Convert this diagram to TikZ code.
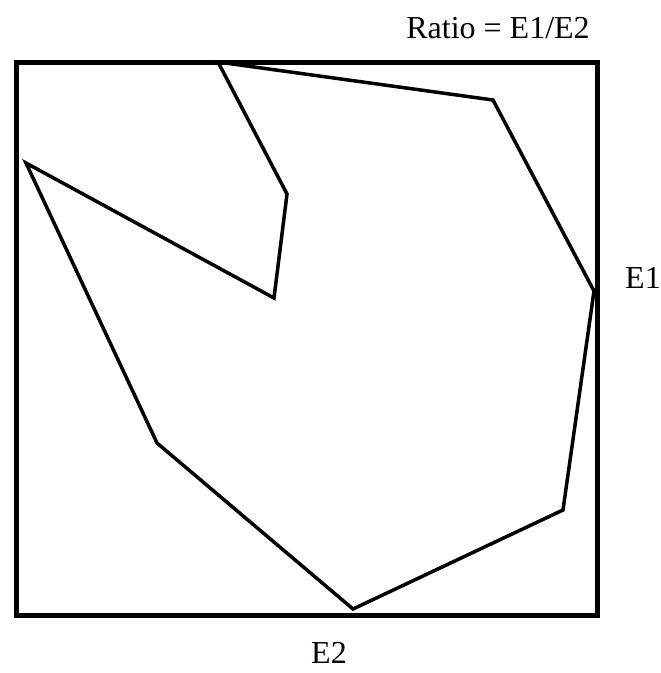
\documentclass[tikz,border=0pt]{standalone}
\usepackage{fontspec}
\setmainfont{Liberation Serif}
\usepackage{xcolor}
\usepackage{tikz}
\usetikzlibrary{calc,positioning}
\definecolor{rtinta}{gray}{0.0}

\begin{document}
\begin{tikzpicture}[x=1pt, y=-1pt, font=\fontsize{32}{38}\selectfont,
    marco/.style={draw=rtinta, line width=5pt, line join=miter},
    perfil/.style={draw=rtinta, line width=3.5pt, line join=miter},
    rotulo/.style={inner sep=0pt, anchor=base, text=rtinta}]
  \useasboundingbox (0,0) rectangle (661,673);
  % marco
  \draw[marco] (16,62) rectangle (597,615);
  % vertices del perfil
  \coordinate (p1) at (218,62);
  \coordinate (p2) at (493,100);
  \coordinate (p3) at (594,291);
  \coordinate (p4) at (563,510);
  \coordinate (p5) at (353,609);
  \coordinate (p6) at (157,443);
  \coordinate (p7) at (26,163);
  \coordinate (p8) at (274,298);
  \coordinate (p9) at (287,194);
  \draw[perfil] (p1) -- (p2) -- (p3) -- (p4) -- (p5) -- (p6) -- (p7) -- (p8) -- (p9) -- cycle;
  % rotulos
  \node[rotulo] (ratio) at (498,38) {Ratio = E1/E2};
  \node[rotulo] (e1) at (643,288) {E1};
  \node[rotulo] (e2) at (329,663) {E2};
\end{tikzpicture}
\end{document}
